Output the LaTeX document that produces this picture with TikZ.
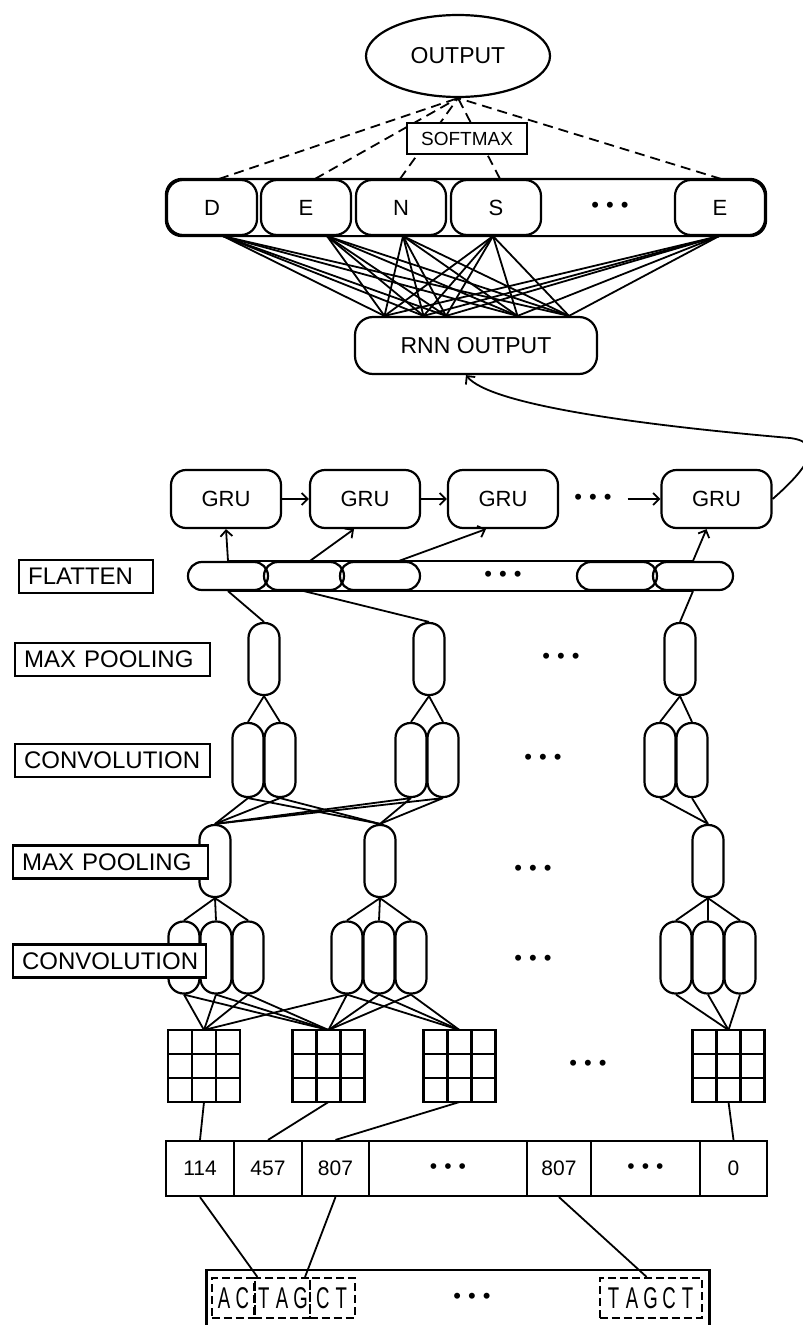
\documentclass[tikz,border=0pt]{standalone}
\usepackage{fontspec}
\setmainfont{Liberation Sans}
\newfontfamily\seqfont[FakeStretch=0.62]{Liberation Sans}
\usetikzlibrary{arrows.meta,shapes.geometric,positioning}
\newcommand{\threedots}{\textbullet\hspace{7pt}\textbullet\hspace{7pt}\textbullet}
\newcommand{\nt}[1]{\makebox[18.5pt]{#1}}

\begin{document}
\begin{tikzpicture}[x=1pt, y=-1pt, line width=2.2pt,
  every node/.style={font=\fontsize{22}{24}\selectfont, inner sep=0pt},
  rbox/.style={draw, rounded corners=16pt, minimum width=90pt, minimum height=55pt},
  grubox/.style={draw, rounded corners=15pt, minimum width=110pt, minimum height=58pt},
  flatcell/.style={draw, rounded corners=13.9pt, minimum width=80pt, minimum height=28pt},
  neuron/.style={draw, rounded corners=15pt, minimum width=31pt, minimum height=72pt},
  numcell/.style={draw, minimum height=55pt, font=\fontsize{21}{24}\selectfont},
  gridbox/.style={draw, minimum size=72pt, outer sep=0pt},
  lname/.style={draw, fill=white, anchor=west, minimum height=33pt, inner xsep=9pt,
    text width=#1, align=left, font=\fontsize{24}{26}\selectfont},
  kmer/.style={draw, dash pattern=on 8pt off 4pt, minimum height=40pt,
    font=\seqfont\fontsize{30}{30}\selectfont},
  wire/.style={line width=1.8pt},
  arrowline/.style={line width=1.8pt, -{Straight Barb[length=6pt,width=12pt]}}
]
\fill[white] (0,0) rectangle (803,1325);
\useasboundingbox (0,0) rectangle (803,1325);

% output and dense layer
\node[draw, ellipse, minimum width=184pt, minimum height=82pt, font=\fontsize{23}{24}\selectfont] (out) at (458,56) {OUTPUT};
\foreach \n/\x/\t in {1/212/D, 2/306/E, 3/401/N, 4/496/S, 6/720/E}
  \node[rbox] (d\n) at (\x,207.5) {\t};
\node (d5) at (610,207.5) {\threedots};
\draw[rounded corners=16pt] (d1.north west) rectangle (d6.south east);
\foreach \n/\s in {1/7, 2/9, 3/-1, 4/4, 6/1}
  \draw[wire, dash pattern=on 10pt off 6pt] ([xshift=\s pt]d\n.north) -- (out.south);
\node[draw, fill=white, minimum width=120pt, minimum height=31pt, font=\fontsize{19}{20}\selectfont] (soft) at (467,138.5) {SOFTMAX};

% rnn output
\node[draw, rounded corners=18pt, minimum width=242pt, minimum height=57pt, font=\fontsize{23}{24}\selectfont] (rnn) at (476,345.5) {RNN OUTPUT};
\foreach \i/\dx in {1/-91.5, 2/-52.5, 3/-30, 4/41.5, 5/93}
  \coordinate (r\i) at ([xshift=\dx pt]rnn.north);
\foreach \n/\s in {1/11, 2/21, 3/2, 4/-3, 6/-1}
  \foreach \i in {1,...,5}
    \draw[wire] ([xshift=\s pt]d\n.south) -- (r\i);

% gru chain
\foreach \n/\x in {1/226, 2/365, 3/503, 4/716.5}
  \node[grubox] (g\n) at (\x,499) {GRU};
\node (gdots) at (593,499) {\threedots};
\draw[arrowline] (g1) -- (g2);
\draw[arrowline] (g2) -- (g3);
\draw[arrowline] ([xshift=15pt]gdots.east) -- (g4.west);
\draw[arrowline] (g4.east) .. controls (800,475) and (830,443) .. (790,438)
  .. controls (640,425) and (490,405) .. ([xshift=-10pt]rnn.south);

% flatten
\foreach \n/\x in {1/228, 2/304, 3/380, 4/617, 5/693}
  \node[flatcell] (f\n) at (\x,576) {};
\node (fdots) at (503,576) {\threedots};
\draw (f1.north) -- (f5.north) (f1.south) -- (f5.south);
\draw[arrowline] (f1.north) -- (g1.south);
\draw[arrowline] ([xshift=6pt]f2.north) -- ([xshift=-11pt]g2.south);
\draw[arrowline] ([xshift=19pt]f3.north) -- ([xshift=-17pt]g3.south);
\draw[arrowline] (f5.north) -- ([xshift=-10pt]g4.south);

% max pooling 1
\foreach \n/\x in {1/264, 2/429, 3/680}
  \node[neuron] (m\n) at (\x,659) {};
\node (mdots) at (561,658) {\threedots};
\draw[wire] (f1.south) -- (m1.north) (f2.south) -- (m2.north) (f5.south) -- (m3.north);

% convolution 1
\foreach \n/\x in {1/248, 2/280, 3/411, 4/443, 5/660, 6/692}
  \node[neuron, minimum height=74pt] (c\n) at (\x,760) {};
\node (cdots) at (543,759) {\threedots};
\foreach \m/\a/\b in {1/1/2, 2/3/4, 3/5/6}
  \draw[wire] (m\m.south) -- (c\a.north) (m\m.south) -- (c\b.north);

% max pooling 2
\foreach \n/\x in {1/215, 2/380, 3/708}
  \node[neuron] (p\n) at (\x,861) {};
\node (pdots) at (533,870) {\threedots};
\foreach \a in {1,2,3,4}
  \draw[wire] (c\a.south) -- (p1.north) (c\a.south) -- (p2.north);
\draw[wire] (c5.south) -- (p3.north) (c6.south) -- (p3.north);

% convolution 2
\foreach \n/\x in {1/184, 2/216, 3/248, 4/347, 5/379, 6/411, 7/676, 8/708, 9/740}
  \node[neuron] (v\n) at (\x,957.5) {};
\node (vdots) at (533,960) {\threedots};
\foreach \p/\a/\b/\c in {1/1/2/3, 2/4/5/6, 3/7/8/9}
  \draw[wire] (p\p.south) -- (v\a.north) (p\p.south) -- (v\b.north) (p\p.south) -- (v\c.north);

% embedding grids
\foreach \n/\x in {1/204, 2/328.5, 3/459.5, 4/728.5} {
  \node[gridbox] (q\n) at (\x,1066) {};
  \foreach \k in {1,2}
    \draw ([xshift=\k*24pt]q\n.north west) -- ([xshift=\k*24pt]q\n.south west)
          ([yshift=-\k*24pt]q\n.north west) -- ([yshift=-\k*24pt]q\n.north east);
}
\node (qdots) at (588,1065) {\threedots};
\foreach \a in {1,2,3}
  \draw[wire] (v\a.south) -- (q1.north) (v\a.south) -- (q2.north);
\foreach \a in {4,5,6}
  \draw[wire] (v\a.south) -- (q2.north) (v\a.south) -- (q3.north);
\draw[wire] (v4.south) -- (q1.north);
\foreach \a in {7,8,9}
  \draw[wire] (v\a.south) -- (q4.north);

% token ids
\foreach \n/\x/\w/\t in {1/200/68/114, 2/268/68/457, 3/335.5/67/807, 4/448/158/\threedots,
                         5/559/64/807, 6/645.5/109/\threedots, 7/733.5/67/0}
  \node[numcell, minimum width=\w pt] (n\n) at (\x,1168.5) {\t};
\draw[wire] (q1.south) -- (n1.north) (q2.south) -- (n2.north)
            (q3.south) -- (n3.north) (q4.south) -- (n7.north);

% sequence
\node[draw, minimum width=503pt, minimum height=58pt] (seq) at (458,1299) {};
\node[kmer, minimum width=43pt] (w1) at (233.2,1298) {\nt{A}\nt{C}};
\node[kmer, minimum width=55pt] (w2) at (282.2,1298) {\nt{T}\nt{A}\nt{G}};
\node[kmer, minimum width=45pt] (w3) at (332.1,1298) {\nt{C}\nt{T}};
\node[kmer, minimum width=102pt] (w4) at (650.6,1298) {\nt{T}\nt{A}\nt{G}\nt{C}\nt{T}};
\node (sdots) at (472,1298) {\threedots};
\draw[wire] (n1.south) -- ([xshift=4pt]w2.north west);
\draw[wire] (n3.south) -- ([xshift=-6pt]w2.north east);
\draw[wire] (n5.south) -- ([xshift=-4pt]w4.north);

% layer names
\node[lname=116pt] (lflat) at (18,576.5) {FLATTEN};
\node[lname=177pt] (lmp1) at (14,659.5) {MAX POOLING};
\node[lname=177pt] (lcv1) at (14,760.5) {CONVOLUTION};
\node[lname=177pt] (lmp2) at (12,862) {MAX POOLING};
\node[lname=175pt] (lcv2) at (12,961) {CONVOLUTION};
\end{tikzpicture}
\end{document}
